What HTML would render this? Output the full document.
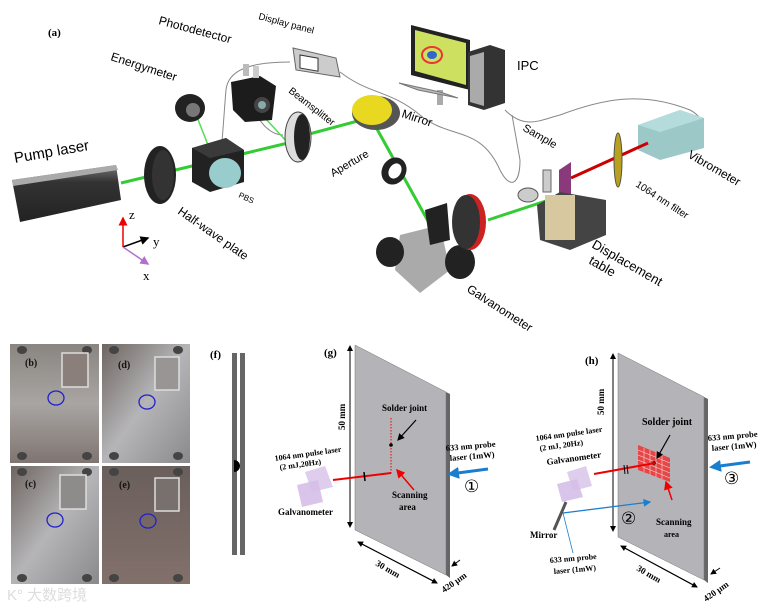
<!DOCTYPE html>
<html><head><meta charset="utf-8"><style>
html,body{margin:0;padding:0;background:#fff;}
svg{display:block;font-family:"Liberation Sans",sans-serif;}
.s{font-family:"Liberation Serif",serif;}
</style></head><body>
<svg width="762" height="609" viewBox="0 0 762 609" xmlns="http://www.w3.org/2000/svg">
<defs>
<linearGradient id="ph1" x1="0" y1="0" x2="0" y2="1"><stop offset="0" stop-color="#8a8580"/><stop offset="0.5" stop-color="#a8a5a2"/><stop offset="1" stop-color="#7f7572"/></linearGradient>
<linearGradient id="ph2" x1="0" y1="0" x2="1" y2="1"><stop offset="0" stop-color="#6e6560"/><stop offset="0.5" stop-color="#b5b5b8"/><stop offset="1" stop-color="#8a8a8c"/></linearGradient>
<linearGradient id="ph3" x1="0" y1="0" x2="0" y2="1"><stop offset="0" stop-color="#6a5f5c"/><stop offset="1" stop-color="#82706b"/></linearGradient>
<linearGradient id="lz" x1="0" y1="0" x2="0" y2="1"><stop offset="0" stop-color="#777"/><stop offset="0.3" stop-color="#333"/><stop offset="1" stop-color="#222"/></linearGradient>
<marker id="ab" markerWidth="6" markerHeight="6" refX="5" refY="3" orient="auto"><path d="M0,0L6,3L0,6z" fill="#000"/></marker>
<marker id="ar" markerWidth="6" markerHeight="6" refX="5" refY="3" orient="auto"><path d="M0,0L6,3L0,6z" fill="#e00"/></marker>
<marker id="ap" markerWidth="6" markerHeight="6" refX="5" refY="3" orient="auto"><path d="M0,0L6,3L0,6z" fill="#b070d0"/></marker>
<marker id="abl" markerWidth="6" markerHeight="6" refX="5" refY="3" orient="auto"><path d="M0,0L6,3L0,6z" fill="#1a7ed0"/></marker>
<marker id="abb" markerWidth="4" markerHeight="4" refX="3" refY="2" orient="auto"><path d="M0,0L4,2L0,4z" fill="#1a7ed0"/></marker>
</defs>

<!-- ===== (a) ===== -->
<text x="48" y="36" class="s" font-size="11" font-weight="bold">(a)</text>
<g fill="none" stroke="#888" stroke-width="1">
<path d="M214,190 C220,190 224,110 226,90 C228,70 250,62 290,62"/>
<path d="M340,72 C370,95 390,90 420,115 C450,140 480,125 500,170 C510,190 520,185 520,160 L512,115"/>
<path d="M505,110 C525,130 540,120 560,115 C600,100 640,90 690,110 C705,118 705,130 700,140"/>
<path d="M252,100 C255,120 270,135 283,135"/>
</g>
<polygon points="12,180 116,165 121,200 20,222" fill="url(#lz)"/>
<polygon points="12,180 116,165 118,170 13,186" fill="#aaa"/>
<text x="15" y="163" font-size="15" transform="rotate(-10 15 163)">Pump laser</text>
<g stroke="#3c3" stroke-width="3" fill="none">
<path d="M121,183 L288,143"/><path d="M298,137 L369,118"/><path d="M372,120 L433,230"/><path d="M488,220 L564,195"/>
</g>
<g stroke="#5d5" stroke-width="1.5"><path d="M288,143 L265,118"/><path d="M210,150 L195,112"/></g>
<ellipse cx="160" cy="175" rx="16" ry="29" fill="#222"/><ellipse cx="163" cy="175" rx="11" ry="25" fill="#333"/>
<polygon points="192,148 226,138 244,150 244,182 210,192 192,182" fill="#222"/>
<polygon points="192,148 226,138 244,150 210,158" fill="#3a3a3a"/>
<ellipse cx="225" cy="173" rx="16" ry="15" fill="#9cc"/>
<text x="238" y="197" font-size="8" transform="rotate(25 238 197)">PBS</text>
<ellipse cx="190" cy="108" rx="15" ry="14" fill="#222"/><ellipse cx="193" cy="110" rx="7" ry="7" fill="#777"/>
<text x="110" y="60" font-size="12" transform="rotate(18 110 60)">Energymeter</text>
<polygon points="231,82 260,76 276,86 272,120 245,122 233,110" fill="#1c1c1c"/>
<rect x="243" y="64" width="6" height="12" fill="#bbb"/><rect x="253" y="66" width="6" height="12" fill="#ccc"/>
<ellipse cx="262" cy="105" rx="8" ry="8" fill="#444"/><ellipse cx="262" cy="105" rx="4" ry="4" fill="#8aa"/>
<text x="158" y="24" font-size="12" transform="rotate(15 158 24)">Photodetector</text>
<polygon points="293,48 336,58 340,77 296,70" fill="#ccc" stroke="#666"/>
<rect x="300" y="55" width="18" height="13" fill="#fff" stroke="#333" transform="skewY(10)" transform-origin="300 55"/>
<text x="258" y="19" font-size="9.5" transform="rotate(15 258 19)">Display panel</text>
<ellipse cx="298" cy="137" rx="13" ry="25" fill="#ddd" stroke="#444"/><ellipse cx="302" cy="137" rx="8" ry="23" fill="#222"/>
<text x="288" y="92" font-size="10" transform="rotate(38 288 92)">Beamsplitter</text>
<ellipse cx="376" cy="113" rx="24" ry="17" fill="#555"/><ellipse cx="372" cy="110" rx="20" ry="15" fill="#e8d820"/>
<text x="401" y="117" font-size="12" transform="rotate(18 401 117)">Mirror</text>
<polygon points="411,25 470,40 470,90 411,75" fill="#222"/>
<polygon points="415,30 466,43 466,85 415,71" fill="#cde060"/>
<ellipse cx="432" cy="55" rx="10" ry="8" fill="none" stroke="#e33" stroke-width="2"/><ellipse cx="432" cy="55" rx="5" ry="4" fill="#36c"/>
<rect x="437" y="90" width="6" height="15" fill="#aaa"/>
<polygon points="468,52 490,45 505,50 505,103 484,110 468,105" fill="#333"/>
<polygon points="470,56 484,52 484,106 470,102" fill="#aaa"/>
<polygon points="399,83 440,92 458,98 418,90" fill="#bbb" stroke="#777"/>
<text x="517" y="70" font-size="13">IPC</text>
<polygon points="638,125 680,110 704,118 704,148 660,160 638,150" fill="#9cc8c8"/>
<polygon points="638,125 680,110 704,118 660,132" fill="#b5dcdc"/>
<text x="687" y="157" font-size="12" transform="rotate(30 687 157)">Vibrometer</text>
<path d="M648,143 L571,178" stroke="#c00" stroke-width="3"/>
<ellipse cx="618" cy="160" rx="4" ry="27" fill="#b8a020" stroke="#554"/>
<text x="635" y="186" font-size="10" transform="rotate(33 635 186)">1064 nm filter</text>
<polygon points="559,170 571,162 571,205 559,212" fill="#8a3a7a"/>
<polygon points="537,205 560,192 606,200 606,235 570,250 540,240" fill="#444"/>
<rect x="545" y="195" width="30" height="45" fill="#d8c8a0"/>
<ellipse cx="528" cy="195" rx="10" ry="7" fill="#ccc" stroke="#555"/>
<rect x="543" y="170" width="8" height="22" fill="#ccc" stroke="#666"/>
<text x="522" y="130" font-size="11" transform="rotate(30 522 130)">Sample</text>
<text x="591" y="247" font-size="13" transform="rotate(30 591 247)">Displacement</text>
<text x="588" y="263" font-size="13" transform="rotate(30 588 263)">table</text>
<ellipse cx="394" cy="171" rx="12" ry="14" fill="#222" transform="rotate(30 394 171)"/><ellipse cx="395" cy="171" rx="6" ry="8" fill="#fff" transform="rotate(30 395 171)"/>
<text x="333" y="177" font-size="11" transform="rotate(-30 333 177)">Aperture</text>
<polygon points="400,235 440,225 450,270 420,293 395,270" fill="#aaa"/>
<ellipse cx="390" cy="252" rx="14" ry="15" fill="#222"/>
<ellipse cx="460" cy="262" rx="15" ry="17" fill="#222"/>
<ellipse cx="470" cy="222" rx="16" ry="28" fill="#c22"/><ellipse cx="466" cy="222" rx="14" ry="27" fill="#333"/>
<polygon points="425,210 447,203 450,240 430,245" fill="#222"/>
<text x="466" y="291" font-size="12" transform="rotate(33 466 291)">Galvanometer</text>
<text x="177" y="213" font-size="12" transform="rotate(35 177 213)">Half-wave plate</text>
<line x1="123" y1="247" x2="123" y2="218" stroke="#e00" stroke-width="1.5" marker-end="url(#ar)"/>
<line x1="123" y1="247" x2="148" y2="238" stroke="#000" stroke-width="1.5" marker-end="url(#ab)"/>
<line x1="123" y1="247" x2="148" y2="264" stroke="#b070d0" stroke-width="1.5" marker-end="url(#ap)"/>
<text x="129" y="219" class="s" font-size="13">z</text>
<text x="153" y="246" class="s" font-size="13">y</text>
<text x="143" y="280" class="s" font-size="13">x</text>

<!-- ===== photos ===== -->
<g>
<rect x="10" y="344" width="89" height="119" fill="url(#ph1)"/>
<rect x="102" y="344" width="88" height="119" fill="url(#ph2)"/>
<rect x="11" y="466" width="88" height="118" fill="url(#ph2)"/>
<rect x="102" y="466" width="88" height="118" fill="url(#ph3)"/>
<g fill="#444">
<ellipse cx="22" cy="350" rx="5" ry="4"/><ellipse cx="87" cy="350" rx="5" ry="4"/><ellipse cx="22" cy="456" rx="5" ry="4"/><ellipse cx="87" cy="456" rx="5" ry="4"/>
<ellipse cx="114" cy="350" rx="5" ry="4"/><ellipse cx="178" cy="350" rx="5" ry="4"/><ellipse cx="114" cy="456" rx="5" ry="4"/><ellipse cx="178" cy="456" rx="5" ry="4"/>
<ellipse cx="22" cy="472" rx="5" ry="4"/><ellipse cx="87" cy="472" rx="5" ry="4"/><ellipse cx="22" cy="578" rx="5" ry="4"/><ellipse cx="87" cy="578" rx="5" ry="4"/>
<ellipse cx="114" cy="472" rx="5" ry="4"/><ellipse cx="178" cy="472" rx="5" ry="4"/><ellipse cx="114" cy="578" rx="5" ry="4"/><ellipse cx="178" cy="578" rx="5" ry="4"/>
</g>
<g fill="none" stroke="#ddd" stroke-width="1.5">
<rect x="62" y="353" width="26" height="34" fill="#8a7f7a"/><rect x="155" y="357" width="24" height="33" fill="#9a9595"/>
<rect x="60" y="475" width="26" height="34" fill="#8e8c8a"/><rect x="155" y="478" width="24" height="33" fill="#77706d"/>
</g>
<g fill="none" stroke="#22c" stroke-width="1.3">
<ellipse cx="56" cy="398" rx="8" ry="7"/><ellipse cx="147" cy="402" rx="8" ry="7"/><ellipse cx="55" cy="520" rx="8" ry="7"/><ellipse cx="148" cy="521" rx="8" ry="7"/>
</g>
<g class="s" font-size="10" font-weight="bold" fill="#111">
<text x="25" y="366">(b)</text><text x="118" y="368">(d)</text><text x="25" y="487">(c)</text><text x="119" y="488">(e)</text>
</g>
<text x="7" y="600" font-size="15" fill="#ddd" font-family="Liberation Sans,'Noto Sans CJK SC',sans-serif">K° 大数跨境</text>
</g>

<!-- ===== (f) ===== -->
<text x="210" y="358" class="s" font-size="11" font-weight="bold">(f)</text>
<rect x="232" y="353" width="5" height="202" fill="#666"/><rect x="240" y="353" width="5" height="202" fill="#666"/>
<path d="M234,460 A6,6 0 0 1 234,472 z" fill="#000"/>

<!-- ===== (g) ===== -->
<text x="324" y="356" class="s" font-size="11" font-weight="bold">(g)</text>
<polygon points="446,392 450,394 450,578 446,575" fill="#666"/>
<polygon points="355,345 446,392 446,575 355,530" fill="#b4b4b8" stroke="#777" stroke-width="0.5"/>
<line x1="350" y1="346" x2="350" y2="527" stroke="#000" marker-end="url(#ab)"/>
<line x1="350" y1="527" x2="350" y2="346" stroke="#000" marker-end="url(#ab)"/>
<text x="345" y="430" class="s" font-size="9" font-weight="bold" transform="rotate(-90 345 430)">50 mm</text>
<line x1="358" y1="542" x2="437" y2="583" stroke="#000" marker-end="url(#ab)"/>
<line x1="437" y1="583" x2="358" y2="542" stroke="#000" marker-end="url(#ab)"/>
<text x="375" y="565" class="s" font-size="9" font-weight="bold" transform="rotate(30 375 565)">30 mm</text>
<line x1="460" y1="560" x2="452" y2="566" stroke="#000" marker-end="url(#ab)"/>
<text x="444" y="593" class="s" font-size="9" font-weight="bold" transform="rotate(-35 444 593)">420 μm</text>
<text x="382" y="411" class="s" font-size="9" font-weight="bold">Solder joint</text>
<line x1="416" y1="420" x2="398" y2="440" stroke="#000" stroke-width="1.2" marker-end="url(#ab)"/>
<line x1="391" y1="418" x2="391" y2="474" stroke="#e00" stroke-dasharray="1.5,1.5"/>
<circle cx="391" cy="445" r="1.8" fill="#000"/>
<line x1="333" y1="480" x2="391" y2="473" stroke="#e00" stroke-width="2"/>
<line x1="364" y1="472" x2="365" y2="481" stroke="#000" stroke-width="1.5"/>
<line x1="414" y1="490" x2="397" y2="470" stroke="#e00" stroke-width="1.5" marker-end="url(#ar)"/>
<text x="392" y="498" class="s" font-size="9" font-weight="bold">Scanning</text>
<text x="399" y="510" class="s" font-size="9" font-weight="bold">area</text>
<text x="275" y="461" class="s" font-size="8" font-weight="bold" transform="rotate(-8 275 461)">1064 nm pulse laser</text>
<text x="280" y="470" class="s" font-size="8" font-weight="bold" transform="rotate(-8 280 470)">(2 mJ,20Hz)</text>
<polygon points="305,472 325,466 333,487 312,492" fill="#dcc8ec" opacity="0.9"/>
<polygon points="297,485 318,480 323,502 302,507" fill="#d5bfe8" opacity="0.9"/>
<text x="278" y="515" class="s" font-size="9" font-weight="bold">Galvanometer</text>
<text x="446" y="451" class="s" font-size="8.5" font-weight="bold" transform="rotate(-5 446 451)">633 nm probe</text>
<text x="450" y="461" class="s" font-size="8.5" font-weight="bold" transform="rotate(-5 450 461)">laser (1mW)</text>
<line x1="488" y1="469" x2="450" y2="474" stroke="#1a7ed0" stroke-width="3" marker-end="url(#abb)"/>
<text x="464" y="492" font-size="17">①</text>

<!-- ===== (h) ===== -->
<text x="585" y="364" class="s" font-size="11" font-weight="bold">(h)</text>
<polygon points="704,397 708,399 708,583 704,580" fill="#666"/>
<polygon points="618,353 704,397 704,580 618,537" fill="#b4b4b8" stroke="#777" stroke-width="0.5"/>
<line x1="613" y1="354" x2="613" y2="531" stroke="#000" marker-end="url(#ab)"/>
<line x1="613" y1="531" x2="613" y2="354" stroke="#000" marker-end="url(#ab)"/>
<text x="604" y="415" class="s" font-size="9" font-weight="bold" transform="rotate(-90 604 415)">50 mm</text>
<line x1="621" y1="546" x2="697" y2="587" stroke="#000" marker-end="url(#ab)"/>
<line x1="697" y1="587" x2="621" y2="546" stroke="#000" marker-end="url(#ab)"/>
<text x="636" y="570" class="s" font-size="9" font-weight="bold" transform="rotate(30 636 570)">30 mm</text>
<line x1="720" y1="568" x2="711" y2="574" stroke="#000" marker-end="url(#ab)"/>
<text x="706" y="602" class="s" font-size="9" font-weight="bold" transform="rotate(-35 706 602)">420 μm</text>
<text x="642" y="425" class="s" font-size="10" font-weight="bold">Solder joint</text>
<polygon points="638,445 670,458 670,482 638,470" fill="#e33" opacity="0.85"/>
<g stroke="#fff" stroke-width="0.6" opacity="0.8">
<line x1="638" y1="450" x2="670" y2="463"/><line x1="638" y1="455" x2="670" y2="468"/><line x1="638" y1="460" x2="670" y2="473"/><line x1="638" y1="465" x2="670" y2="478"/>
<line x1="644" y1="448" x2="644" y2="472"/><line x1="650" y1="450" x2="650" y2="475"/><line x1="656" y1="452" x2="656" y2="477"/><line x1="662" y1="455" x2="662" y2="479"/>
</g>
<line x1="670" y1="435" x2="657" y2="458" stroke="#000" stroke-width="1.2" marker-end="url(#ab)"/>
<circle cx="654" cy="463" r="1.8" fill="#000"/>
<line x1="594" y1="474" x2="655" y2="463" stroke="#e00" stroke-width="2"/>
<line x1="624" y1="465" x2="625" y2="474" stroke="#000" stroke-width="1"/><line x1="627" y1="465" x2="628" y2="474" stroke="#000" stroke-width="1"/>
<line x1="672" y1="500" x2="666" y2="482" stroke="#e00" stroke-width="1.5" marker-end="url(#ar)"/>
<text x="656" y="525" class="s" font-size="9" font-weight="bold">Scanning</text>
<text x="664" y="537" class="s" font-size="8" font-weight="bold">area</text>
<text x="536" y="441" class="s" font-size="8" font-weight="bold" transform="rotate(-8 536 441)">1064 nm pulse laser</text>
<text x="540" y="451" class="s" font-size="8" font-weight="bold" transform="rotate(-8 540 451)">(2 mJ, 20Hz)</text>
<text x="547" y="465" class="s" font-size="9" font-weight="bold" transform="rotate(-8 547 465)">Galvanometer</text>
<polygon points="567,472 586,466 592,486 573,491" fill="#dcc8ec" opacity="0.9"/>
<polygon points="557,484 577,479 583,497 562,502" fill="#d5bfe8" opacity="0.9"/>
<line x1="566" y1="502" x2="554" y2="530" stroke="#555" stroke-width="3"/>
<line x1="563" y1="513" x2="650" y2="502" stroke="#1a7ed0" stroke-width="1.3" marker-end="url(#abl)"/>
<line x1="563" y1="513" x2="573" y2="553" stroke="#1a7ed0" stroke-width="0.8"/>
<text x="530" y="538" class="s" font-size="9" font-weight="bold">Mirror</text>
<text x="550" y="563" class="s" font-size="8" font-weight="bold" transform="rotate(-5 550 563)">633 nm probe</text>
<text x="554" y="574" class="s" font-size="8" font-weight="bold" transform="rotate(-5 554 574)">laser (1mW)</text>
<text x="621" y="524" font-size="17">②</text>
<text x="708" y="441" class="s" font-size="8.5" font-weight="bold" transform="rotate(-5 708 441)">633 nm probe</text>
<text x="712" y="451" class="s" font-size="8.5" font-weight="bold" transform="rotate(-5 712 451)">laser (1mW)</text>
<line x1="750" y1="462" x2="712" y2="467" stroke="#1a7ed0" stroke-width="3" marker-end="url(#abb)"/>
<text x="724" y="484" font-size="17">③</text>
</svg>
</body></html>
